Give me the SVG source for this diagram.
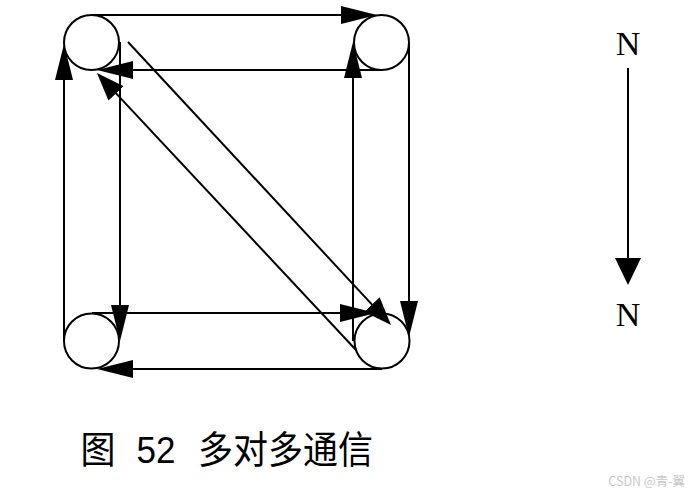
<svg xmlns="http://www.w3.org/2000/svg" width="691" height="493" viewBox="0 0 691 493">
<style>
  .node { fill: #ffffff; stroke: #000000; stroke-width: 2; }
  .conn { fill: none; stroke: #000000; stroke-width: 2; }
  .a { marker-end: url(#arr); }
  .d { marker-end: url(#arrd); }
  .n { marker-end: url(#arrn); }
  .lbl { font-family: "Liberation Serif", "Times New Roman", serif; font-size: 34px; fill: #000; text-anchor: middle; }
  .cap { font-family: "Noto Sans CJK SC", "Noto Sans", sans-serif; font-size: 35px; fill: #000; }
  .wm { font-family: "Noto Sans CJK SC", "Noto Sans", sans-serif; font-size: 12.5px; fill: #c8c8c8; text-anchor: end; }
</style>
<defs>
  <marker id="arr" markerUnits="userSpaceOnUse" markerWidth="40" markerHeight="20" refX="32" refY="9" orient="auto">
    <path d="M0,0 L36,9 L0,18 Z" fill="#000"/>
  </marker>
  <marker id="arrd" markerUnits="userSpaceOnUse" markerWidth="32" markerHeight="24" refX="24" refY="10.5" orient="auto">
    <path d="M0,0 L28,10.5 L0,21 Z" fill="#000"/>
  </marker>
  <marker id="arrn" markerUnits="userSpaceOnUse" markerWidth="30" markerHeight="28" refX="23" refY="13" orient="auto">
    <path d="M0,0 L27,13 L0,26 Z" fill="#000"/>
  </marker>
</defs>
<rect width="691" height="493" fill="#ffffff"/>
<g id="node-tl"><circle class="node" cx="91.5" cy="42.5" r="27.5"/></g>
<g id="node-tr"><circle class="node" cx="381.5" cy="42.5" r="27.5"/></g>
<g id="node-bl"><circle class="node" cx="91.5" cy="341" r="27.5"/></g>
<g id="node-br"><circle class="node" cx="382" cy="341" r="27.5"/></g>
<g id="connectors">
  <line class="conn a" x1="91" y1="15" x2="373" y2="15"/>
  <line class="conn a" x1="381" y1="70" x2="101" y2="70"/>
  <line class="conn a" x1="64" y1="341" x2="64" y2="48"/>
  <line class="conn a" x1="120" y1="42" x2="120" y2="337"/>
  <line class="conn a" x1="353" y1="341" x2="353" y2="46"/>
  <line class="conn a" x1="409" y1="42" x2="409" y2="333"/>
  <line class="conn a" x1="92" y1="313" x2="372" y2="313"/>
  <line class="conn a" x1="382" y1="369" x2="101" y2="369"/>
  <line class="conn d" x1="128" y1="42" x2="388.3" y2="322.1"/>
  <line class="conn d" x1="356" y1="350" x2="99.7" y2="75.9"/>
</g>
<g id="legend">
  <text class="lbl" x="628" y="55">N</text>
  <line class="conn n" x1="628" y1="68" x2="628" y2="281"/>
  <text class="lbl" x="628" y="326">N</text>
</g>
<g id="caption">
  <text class="cap" y="463" transform="translate(0,463) scale(1,1.08) translate(0,-463)"><tspan x="80.5">图</tspan><tspan x="136.5" style="font-family:'Liberation Sans', Arial, sans-serif">52</tspan><tspan x="198">多对多通信</tspan></text>
</g>
<text class="wm" x="685" y="486">CSDN @青-翼</text>
</svg>
